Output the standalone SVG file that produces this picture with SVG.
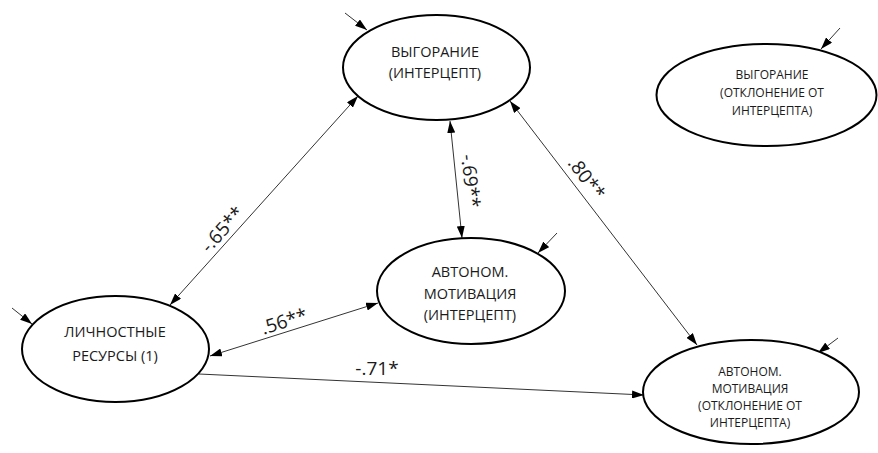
<svg xmlns="http://www.w3.org/2000/svg" width="878" height="453" viewBox="0 0 878 453">
<defs>
<marker id="ah" viewBox="0 0 12 8" refX="12" refY="4" markerWidth="12" markerHeight="8" markerUnits="userSpaceOnUse" orient="auto-start-reverse">
<path d="M0,0 L12,4 L0,8 z" fill="#000"/>
</marker>
<style>
.node ellipse{fill:#fff;stroke:#000;stroke-width:2}
.t{font-family:"Open Sans","Liberation Sans",sans-serif;fill:#1a1a1a;text-anchor:middle}
.big{font-size:14.5px}
.sm{font-size:12px}
.lbl{font-family:"Open Sans","Liberation Sans",sans-serif;fill:#1a1a1a;font-size:19px;text-anchor:middle}
.c line{stroke:#333;stroke-width:1;fill:none}
.dbl{marker-start:url(#ah);marker-end:url(#ah)}
.one{marker-end:url(#ah)}
</style>
</defs>
<rect width="878" height="453" fill="#fff"/>
<g id="connectors" class="c">
<line class="dbl" x1="170" y1="305" x2="358" y2="96"/>
<line class="dbl" x1="210" y1="356" x2="378" y2="303"/>
<line class="dbl" x1="450" y1="121" x2="462" y2="238"/>
<line class="dbl" x1="510" y1="101" x2="697" y2="345"/>
<line class="one" x1="199" y1="374" x2="644" y2="395"/>
<line class="one" x1="345" y1="13" x2="367" y2="30"/>
<line class="one" x1="840" y1="28" x2="821" y2="49"/>
<line class="one" x1="12" y1="308" x2="32" y2="324"/>
<line class="one" x1="557" y1="233" x2="538" y2="253"/>
<line class="one" x1="838" y1="338" x2="818" y2="353"/>
</g>
<g id="labels">
<text class="lbl" transform="translate(222,229) rotate(-48)" y="7">-.65**</text>
<text class="lbl" transform="translate(284,321) rotate(-17.5)" y="7">.56**</text>
<text class="lbl" transform="translate(471,181) rotate(84)" y="7">-.69**</text>
<text class="lbl" transform="translate(587,178) rotate(52.5)" y="7">.80**</text>
<text class="lbl" x="377" y="375">-.71*</text>
</g>
<g id="burnout-intercept" class="node">
<ellipse cx="436.5" cy="67.5" rx="93.5" ry="52.5"/>
<text class="t big" x="435" y="57">ВЫГОРАНИЕ</text>
<text class="t big" x="435" y="78">(ИНТЕРЦЕПТ)</text>
</g>
<g id="burnout-deviation" class="node">
<ellipse cx="766.5" cy="95" rx="110" ry="51"/>
<text class="t sm" x="772" y="79">ВЫГОРАНИЕ</text>
<text class="t sm" x="772" y="97">(ОТКЛОНЕНИЕ ОТ</text>
<text class="t sm" x="772" y="115">ИНТЕРЦЕПТА)</text>
</g>
<g id="personal-resources" class="node">
<ellipse cx="115.5" cy="349" rx="93.5" ry="53"/>
<text class="t big" x="115" y="337">ЛИЧНОСТНЫЕ</text>
<text class="t big" x="115" y="361">РЕСУРСЫ (1)</text>
</g>
<g id="autonomous-intercept" class="node">
<ellipse cx="471" cy="291" rx="94" ry="53"/>
<text class="t big" x="470" y="277">АВТОНОМ.</text>
<text class="t big" x="470" y="299">МОТИВАЦИЯ</text>
<text class="t big" x="470" y="320">(ИНТЕРЦЕПТ)</text>
</g>
<g id="autonomous-deviation" class="node">
<ellipse cx="751" cy="392" rx="108" ry="52"/>
<text class="t sm" x="750" y="376">АВТОНОМ.</text>
<text class="t sm" x="750" y="393">МОТИВАЦИЯ</text>
<text class="t sm" x="750" y="410">(ОТКЛОНЕНИЕ ОТ</text>
<text class="t sm" x="750" y="427">ИНТЕРЦЕПТА)</text>
</g>
</svg>
